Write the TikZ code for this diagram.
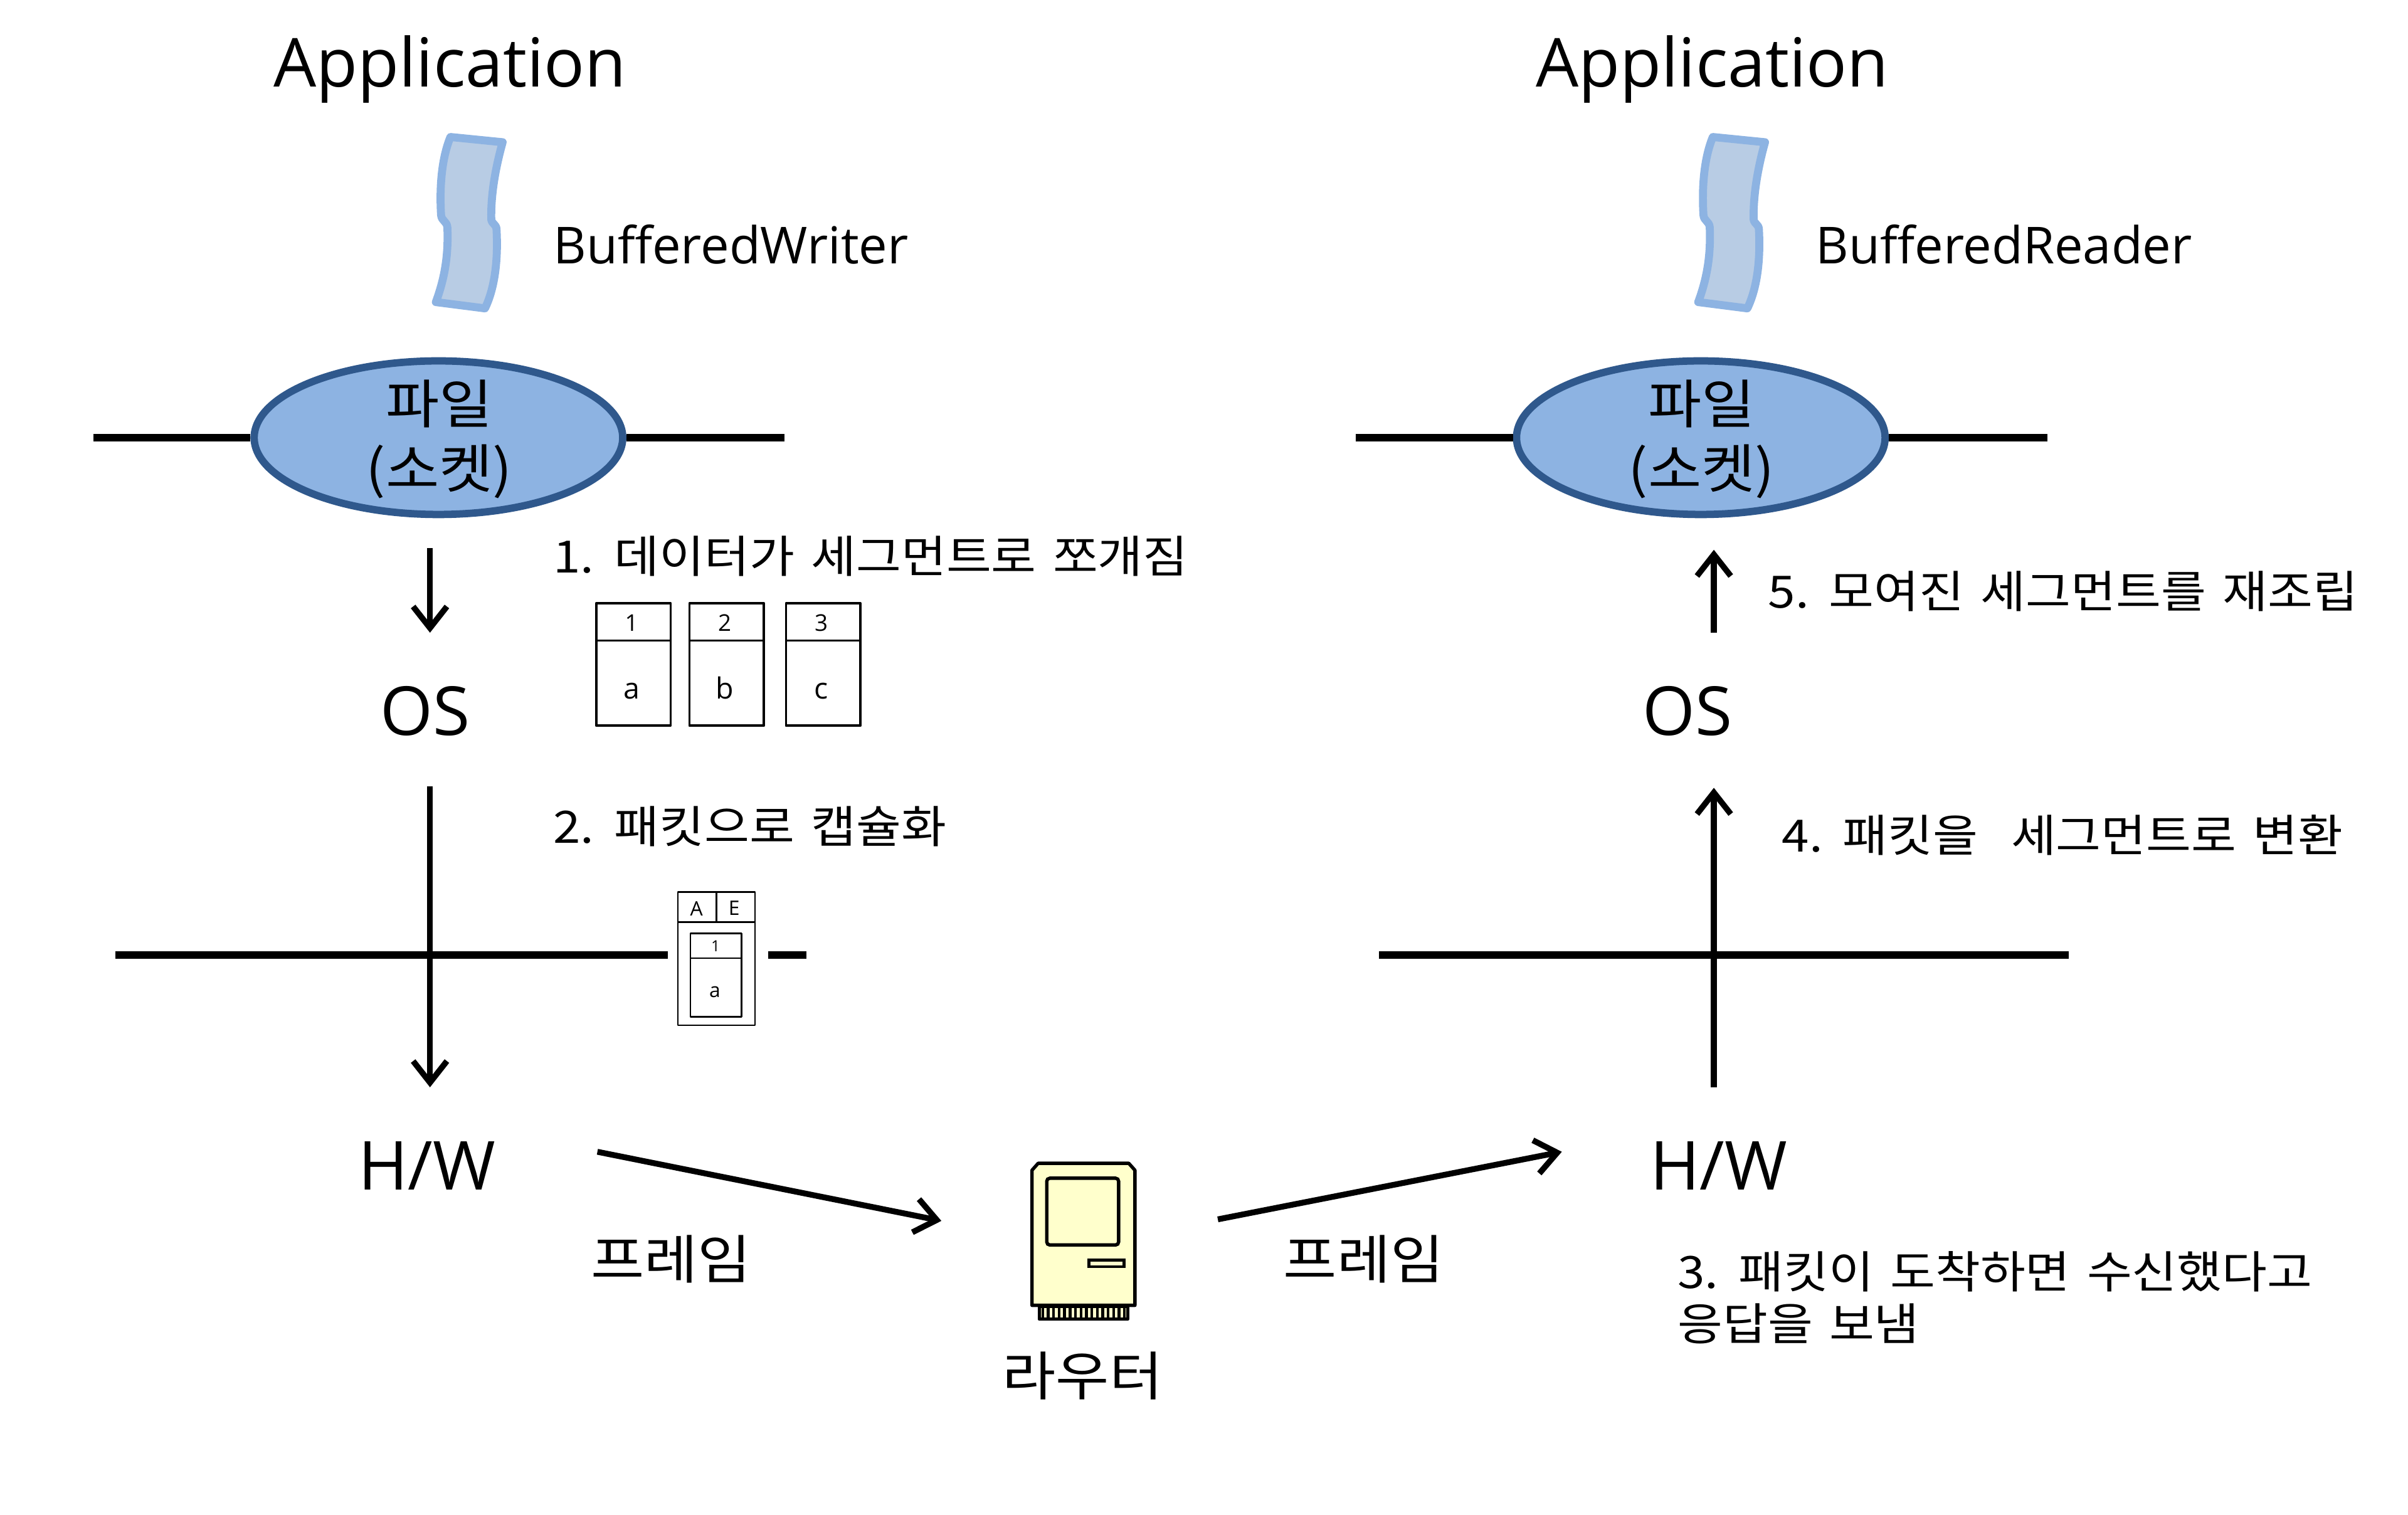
\documentclass[tikz,border=0pt]{standalone}
\usepackage{fontspec}
\usetikzlibrary{arrows.meta,shapes.geometric}
\setmainfont{Open Sans}
\newfontfamily\krfont[FakeStretch=1.1,WordSpace=1.5]{Noto Sans CJK KR}
\definecolor{socketfill}{RGB}{141,179,226}
\definecolor{socketline}{RGB}{47,88,140}
\definecolor{bufferfill}{RGB}{184,204,228}
\definecolor{bufferline}{RGB}{141,179,226}
\definecolor{routerfill}{RGB}{255,255,204}

\begin{document}
\begin{tikzpicture}[x=.5pt,y=-.5pt,font=\fontsize{16.6}{19}\selectfont,
  every node/.style={inner sep=0pt},
  layer/.style={font=\fontsize{22}{25}\selectfont},
  ktext/.style={anchor=west,font=\krfont\fontsize{14.5}{17}\selectfont},
  kbig/.style={font=\krfont\fontsize{17.2}{22}\selectfont},
  wire/.style={line width=2.4pt},
  flow/.style={line width=1.9pt,-{Straight Barb[length=7pt,width=11pt]}},
  cell/.style={line width=.75pt,line join=round},
  cellsmall/.style={line width=.5pt,line join=round}]
\path[use as bounding box] (0,0) rectangle (1568,986.5);
% both hosts share the socket layer, the buffer ribbon and the kernel line
\foreach \side/\dx/\buf/\hwx in {L/0/Writer/278,R/822/Reader/297}{
  \begin{scope}[xshift=\dx*.5pt]
    \node[layer] (app\side) at (293,45) {Application};
    \draw[line width=2.6pt,draw=bufferline,fill=bufferfill,line join=round]
      (293.3,89.2) -- (327.3,92.6) .. controls (323,108) and (319.5,126) .. (319.9,143)
      .. controls (320.5,146) and (323,146) .. (323.3,149) .. controls (324.5,170) and (322,188) .. (315.8,200.8)
      -- (283.8,196.7) .. controls (290,180) and (292,165) .. (291.3,148)
      .. controls (291,144) and (287.5,144) .. (287.2,140) .. controls (286,120) and (288,102) .. (293.3,89.2) -- cycle;
    \node[anchor=west] (buf\side) at (360,159) {Buffered\buf};
    \node[ellipse,draw=socketline,fill=socketfill,line width=2.4pt,minimum width=120pt,minimum height=50pt] (sock\side) at (285.5,285) {};
    \node[kbig] (sockA\side) at (286,263) {파일};
    \node[kbig] (sockB\side) at (286,307) {(소켓)};
    \coordinate (sockW\side) at (61,285);
    \coordinate (sockE\side) at (511,285);
    \draw[wire] (sockW\side) -- (sock\side.west);
    \draw[wire] (sock\side.east) -- (sockE\side);
    \node[layer] (os\side) at (277,463) {OS};
    \node[layer] (hw\side) at (\hwx,759) {H/W};
  \end{scope}
}
% kernel boundary, broken on the left by the packet
\coordinate (kernA) at (75,622);
\coordinate (kernB) at (435,622);
\coordinate (kernC) at (500,622);
\coordinate (kernD) at (525,622);
\coordinate (kernE) at (898,622);
\coordinate (kernF) at (1347,622);
\draw[wire] (kernA) -- (kernB);
\draw[wire] (kernC) -- (kernD);
\draw[wire] (kernE) -- (kernF);
% send side
\coordinate (downA) at (280,357);
\coordinate (downB) at (280,412);
\coordinate (downC) at (280,512);
\coordinate (downD) at (280,708);
\draw[flow] (downA) -- (downB);
\draw[flow] (downC) -- (downD);
% receive side
\coordinate (upA) at (1116,708);
\coordinate (upB) at (1116,513);
\coordinate (upC) at (1116,412);
\coordinate (upD) at (1116,358);
\draw[flow] (upA) -- (upB);
\draw[flow] (upC) -- (upD);
% frames through the router
\coordinate (frameA) at (389,750);
\coordinate (frameB) at (613,795);
\coordinate (frameC) at (793,794);
\coordinate (frameD) at (1017,750);
\draw[flow] (frameA) -- (frameB);
\draw[flow] (frameC) -- (frameD);
\node[kbig] (frameL) at (437,820) {프레임};
\node[kbig] (frameR) at (888,820) {프레임};
\node[kbig] (router) at (705,896) {라우터};
% router icon
\draw[line width=1.1pt,fill=routerfill,line join=round] (676.7,850.6) rectangle (734.3,859);
\foreach \i in {0,...,15}
  \draw[line width=.9pt] ({679+\i*3.55},851) -- ({679+\i*3.55},858);
\draw[line width=1.1pt,fill=routerfill,line join=round] (672,850) -- (672,762) -- (676,757.5) -- (735,757.5) -- (739,762) -- (739,850) -- cycle;
\draw[line width=1.1pt,rounded corners=1pt] (681.6,767.2) rectangle (728.4,810.7);
\draw[line width=1pt] (709,820.4) rectangle (732,824.8);
% step labels
\node[ktext] (stepA) at (360,362) {1. 데이터가 세그먼트로 쪼개짐};
\node[ktext] (stepB) at (360,538) {2. 패킷으로 캡슐화};
\node[ktext,align=left] (stepC) at (1092,845) {3. 패킷이 도착하면 수신했다고\\응답을 보냄};
\node[ktext] (stepD) at (1160,544) {4. 패킷을 \ 세그먼트로 변환};
\node[ktext] (stepE) at (1151,385) {5. 모여진 세그먼트를 재조립};
% segments
\foreach \x/\n/\d in {388.2/1/a,448.9/2/b,511.8/3/c}{
  \draw[cell] (\x,392.9) rectangle ++(48.5,79.6);
  \draw[cell] (\x,417.1) -- ++(48.5,0);
  \node[font=\fontsize{7.5}{9}\selectfont] (seq\n) at ({\x+23},405.5) {\n};
  \node[anchor=base,font=\fontsize{9.5}{11}\selectfont] (data\n) at ({\x+23},455) {\d};
}
% packet on the kernel line
\draw[cellsmall] (441.4,580.9) rectangle (491.6,667.6);
\draw[cellsmall] (441.4,600.5) -- (491.6,600.5);
\draw[cellsmall] (466.5,580.9) -- (466.5,600.5);
\draw[cellsmall] (449.5,607.7) rectangle (482.9,662.1);
\draw[cellsmall] (449.5,624) -- (482.9,624);
\node[font=\fontsize{6.5}{8}\selectfont] (pktA) at (453.5,591.5) {A};
\node[font=\fontsize{6.5}{8}\selectfont] (pktE) at (478,591.5) {E};
\node[font=\fontsize{5}{6}\selectfont] (pktSeq) at (466,616) {1};
\node[font=\fontsize{6.5}{8}\selectfont] (pktData) at (465.5,646) {a};
\end{tikzpicture}
\end{document}
